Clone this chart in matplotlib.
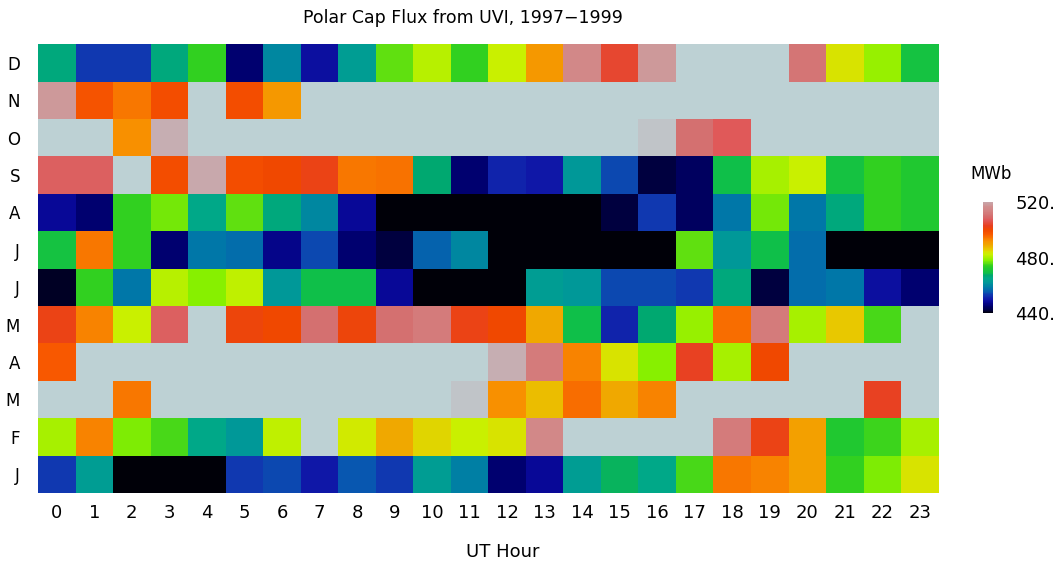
import numpy as np
import matplotlib
matplotlib.use("Agg")
from matplotlib import pyplot as plt
from matplotlib.colors import LinearSegmentedColormap, Normalize

plt.rcParams['font.family'] = ['DejaVu Sans']

nan = np.nan

hours = list(range(24))
month_labels = ["J", "F", "M", "A", "M", "J", "J", "A", "S", "O", "N", "D"]

# polar cap flux (MWb), one list per month, UT hour 0..23
jan = [453, 463, 440, 440, 440, 453, 454, 450, 455, 453, 463, 459,
       445, 448, 463, 468, 465, 475, 494, 493, 490, 474, 477.5, 484]
feb = [480, 493, 477.5, 475, 465, 462, 481.5, nan, 483, 489, 485, 482,
       484, 515, nan, nan, nan, nan, 512, 502, 490, 472, 474.5, 480]
mar = [nan, nan, 494, nan, nan, nan, nan, nan, nan, nan, nan, 524,
       492, 487, 495, 489, 493, nan, nan, nan, nan, nan, 503, nan]
apr = [497, nan, nan, nan, nan, nan, nan, nan, nan, nan, nan, nan,
       521, 512, 493, 484, 478, 503, 480, 500, nan, nan, nan, nan]
may = [502, 493, 482, 508, nan, 501, 500, 510, 501, 510, 512, 502,
       500, 489, 469, 451, 467, 479, 495, 512, 480, 486, 475, nan]
jun = [441, 474, 458, 481, 478, 481.5, 462, 469, 469, 448, 440, 440,
       440, 463, 462, 454, 454, 453, 466, 442, 457, 458, 449, 445]
jul = [470, 494, 474, 445, 458, 457, 447, 454, 445, 442, 456, 460,
       440, 440, 440, 440, 440, 476, 462, 469, 457, 440, 440, 440]
aug = [448, 445, 474, 477, 465, 476, 466, 460, 448, 440, 440, 440,
       440, 440, 440, 442, 453, 444, 458, 477, 458, 466, 474, 472]
sep = [508, 508, nan, 499, 520, 499, 500, 502, 494, 494.5, 467, 445,
       451, 450, 462, 454, 442, 444, 469, 480, 482, 470, 474, 472]
octo = [nan, nan, 492, 521, nan, nan, nan, nan, nan, nan, nan, nan,
        nan, nan, nan, nan, 524, 510, 507, nan, nan, nan, nan, nan]
nov = [518, 498, 494, 499, nan, 499, 491, nan, nan, nan, nan, nan,
       nan, nan, nan, nan, nan, nan, nan, nan, nan, nan, nan, nan]
dec = [466, 453, 453, 466, 474, 445, 460, 449, 463, 476, 481, 474,
       482, 491, 515, 504, 518, nan, nan, nan, 511, 484, 479, 470]

flux = np.array([jan, feb, mar, apr, may, jun, jul, aug, sep, octo, nov, dec])

# colour table, stops given in MWb
stops = [
    (440, "#000008"), (442, "#000040"), (445, "#000070"), (448, "#080898"),
    (450, "#1018a8"), (453, "#1038b0"), (455, "#0858b0"), (458, "#0078a8"),
    (460, "#0088a0"), (462, "#009898"), (465, "#00a888"), (467, "#00a870"),
    (469, "#10c048"), (472, "#20c830"), (474, "#30d020"), (476, "#60e010"),
    (478, "#88f000"), (480, "#a8f000"), (482, "#c8f000"), (484, "#d8e400"),
    (486, "#e8c800"), (489, "#f0a800"), (492, "#f89000"), (494, "#f87800"),
    (497, "#f85800"), (500, "#f04800"), (503, "#e84020"), (507, "#e05858"),
    (510, "#d47070"), (513, "#d48080"), (517, "#d09090"), (520, "#c8a8ac"),
    (522, "#c4b4b8"), (524, "#c0c4c8"),
]
vmin, vmax = 440, 524
cmap = LinearSegmentedColormap.from_list(
    "uvi", [((v - vmin) / (vmax - vmin), c) for v, c in stops], N=512)
cmap.set_bad("#bdd1d4")
norm = Normalize(vmin=vmin, vmax=vmax)

fig = plt.figure(figsize=(10.57, 5.66), dpi=100)
ax = fig.add_axes([0.036, 0.129, 0.852, 0.793])

x_edges = np.arange(len(hours) + 1) - 0.5
y_edges = np.arange(len(month_labels) + 1) - 0.5
mesh = ax.pcolormesh(x_edges, y_edges, np.ma.masked_invalid(flux),
                     cmap=cmap, norm=norm)

ax.set_xticks(hours)
ax.set_xticklabels([str(h) for h in hours], fontsize=13)
ax.set_yticks(range(len(month_labels)))
ax.set_yticklabels(month_labels, fontsize=12)
ax.tick_params(axis="x", length=0, pad=8)
ax.tick_params(axis="y", length=0, pad=13)
for s in ax.spines.values():
    s.set_visible(False)
ax.set_xlim(-0.5, 23.5)
ax.set_ylim(-0.5, 11.5)

fig.text(0.438, 0.968, "Polar Cap Flux from UVI, 1997\u22121999",
         ha="center", va="center", fontsize=12.5)
fig.text(0.476, 0.025, "UT Hour", ha="center", va="center", fontsize=13)

cax = fig.add_axes([0.930, 0.447, 0.0095, 0.196])
cbar = fig.colorbar(mesh, cax=cax, boundaries=np.linspace(440, 520, 257))
cbar.set_ticks([440, 480, 520])
cbar.set_ticklabels(["440.", "480.", "520."])
cbar.ax.tick_params(length=0, labelsize=13, pad=16)
cbar.outline.set_visible(False)
fig.text(0.938, 0.693, "MWb", ha="center", va="center", fontsize=12)

fig.savefig("out.png", dpi=100)
